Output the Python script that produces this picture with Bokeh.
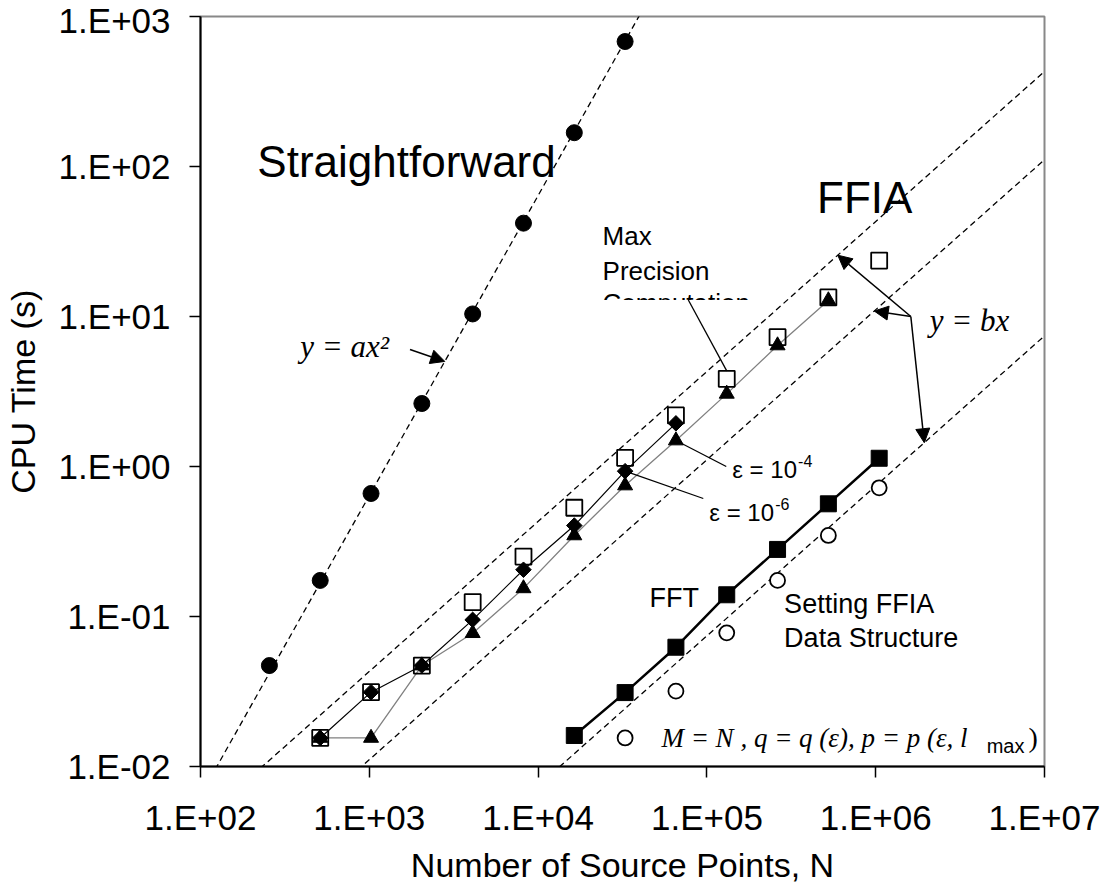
import numpy as np
from bokeh.plotting import figure
from bokeh.models import (FixedTicker, CustomJSTickFormatter, Range1d, Label, Arrow,
                          NormalHead, BoxAnnotation)
from bokeh.embed import file_html
from bokeh.resources import INLINE

# ---------------- data ----------------
N_STRAIGHT = [256, 512, 1024, 2048, 4096, 8192, 16384, 32768]
T_STRAIGHT = [0.0471, 0.174, 0.661, 2.63, 10.4, 41.9, 168.0, 681.0]

N_FFIA = [512, 1024, 2048, 4096, 8192, 16384, 32768, 65536, 131072, 262144, 524288, 1048576]
T_MAXPREC = [0.0155, 0.0313, 0.0471, 0.1245, 0.251, 0.531, 1.143, 2.19, 3.84, 7.28, 13.4, 23.6]
T_EPS6 = [0.0155, 0.0313, 0.0471, 0.095, 0.205, 0.404, 0.931, 1.94]
T_EPS4 = [0.0155, 0.0155, 0.0471, 0.0774, 0.154, 0.347, 0.747, 1.49, 3.05, 6.41, 12.8]

N_FFT = [16384, 32768, 65536, 131072, 262144, 524288, 1048576]
T_FFT = [0.0161, 0.0311, 0.0624, 0.1396, 0.280, 0.564, 1.135]

N_SETUP = [32768, 65536, 131072, 262144, 524288, 1048576]
T_SETUP = [0.0155, 0.0318, 0.0778, 0.174, 0.347, 0.721]

A_QUAD = 6.4e-7                     # y = a x^2
B_LIN = [4.3e-5, 1.11e-5, 7.43e-7]  # y = b x

X_TICKS = [1e2, 1e3, 1e4, 1e5, 1e6, 1e7]
Y_TICKS = [1e-2, 1e-1, 1e0, 1e1, 1e2, 1e3]

# ---------------- layout ----------------
W, H = 1105, 892
FL, FR, FT, FB = 198, 1044, 16, 766


def px2x(px):
    return 10 ** (2 + (px - FL) / (FR - FL) * 5)


def py2y(py):
    return 10 ** (3 - (py - FT) / (FB - FT) * 5)


p = figure(width=W, height=H, x_axis_type="log", y_axis_type="log",
           x_range=Range1d(1e2, 1e7), y_range=Range1d(1e-2, 1e3),
           output_backend="svg", toolbar_location=None,
           min_border_left=FL, min_border_right=W - FR,
           min_border_top=FT, min_border_bottom=H - FB)
p.background_fill_color = "white"
p.border_fill_color = "white"
p.xgrid.visible = False
p.ygrid.visible = False
p.outline_line_color = "#888888"
p.outline_line_width = 2

fmt = CustomJSTickFormatter(code="""
const e = Math.round(Math.log10(tick));
const a = Math.abs(e);
return "1.E" + (e < 0 ? "-" : "+") + (a < 10 ? "0" : "") + a;
""")

for ax, ticks in ((p.xaxis[0], X_TICKS), (p.yaxis[0], Y_TICKS)):
    ax.ticker = FixedTicker(ticks=ticks, minor_ticks=[])
    ax.formatter = fmt
    ax.axis_line_color = "black"
    ax.axis_line_width = 2
    ax.major_tick_line_color = "black"
    ax.major_tick_line_width = 1.5
    ax.major_tick_out = 11
    ax.major_tick_in = 0
    ax.minor_tick_out = 0
    ax.minor_tick_in = 0
    ax.major_label_text_font = "Liberation Sans"
    ax.major_label_text_font_size = "35px"
    ax.major_label_text_color = "black"
    ax.axis_label_text_font = "Liberation Sans"
    ax.axis_label_text_font_size = "34px"
    ax.axis_label_text_font_style = "normal"
    ax.axis_label_text_color = "black"

p.xaxis.axis_label = "Number of Source Points, N"
p.yaxis.axis_label = "CPU Time (s)"
p.xaxis.major_label_standoff = 20
p.xaxis.axis_label_standoff = 6
p.yaxis.major_label_standoff = 19
p.yaxis.axis_label_standoff = 14

# ---------------- reference dashed lines ----------------
xq = np.array([1e2, 1e5])
p.line(xq, A_QUAD * xq ** 2, line_color="black", line_width=1.3, line_dash="6 4")
xl = np.array([1e2, 1e7])
for b in B_LIN:
    p.line(xl, b * xl, line_color="black", line_width=1.3, line_dash="6 4")

# ---------------- series ----------------
p.scatter(N_STRAIGHT, T_STRAIGHT, marker="circle", size=16,
          fill_color="black", line_color="black")

p.line(N_FFIA[:len(T_EPS4)], T_EPS4, line_color="#808080", line_width=1.3)
p.line(N_FFIA[:len(T_EPS6)], T_EPS6, line_color="black", line_width=1.2)

p.scatter(N_FFIA, T_MAXPREC, marker="square", size=16, fill_alpha=0,
          line_color="black", line_width=1.8)
p.scatter(N_FFIA[:len(T_EPS6)], T_EPS6, marker="square", angle=np.pi / 4, size=11,
          fill_color="black", line_color="black")
p.scatter(N_FFIA[:len(T_EPS4)], T_EPS4, marker="triangle", size=15,
          fill_color="black", line_color="black")

p.line(N_FFT, T_FFT, line_color="black", line_width=2.5)
p.scatter(N_FFT, T_FFT, marker="square", size=16, fill_color="black", line_color="black")

p.scatter(N_SETUP, T_SETUP, marker="circle", size=15, fill_color="white",
          line_color="black", line_width=1.8)


# ---------------- annotations ----------------
def label(px, py, text, size, font="Liberation Sans", style="normal"):
    # py is the wanted baseline; the label box is placed by its middle
    p.add_layout(Label(x=px2x(px), y=py2y(py - 0.37 * size), text=text, text_font=font,
                       text_font_size=f"{size}px", text_font_style=style,
                       text_color="black", text_align="left",
                       text_baseline="alphabetic"))


label(255, 177, "Straightforward", 44)
label(816, 213, "FFIA", 44)
label(601, 245, "Max", 26)
label(601, 280, "Precision", 26)
label(601, 312, "Computation", 26)
p.add_layout(BoxAnnotation(left=px2x(595), right=px2x(748), top=py2y(299.5),
                           bottom=py2y(330), fill_color="white", fill_alpha=1,
                           line_alpha=0))

label(731, 478, "ε = 10", 24)
label(797, 466, "-4", 16)
label(708, 521, "ε = 10", 24)
label(774, 509, "-6", 16)

label(929, 331, "y  =  bx", 31, "Liberation Serif", "italic")
label(298, 357, "y  =  ax²", 31, "Liberation Serif", "italic")

label(648, 607, "FFT", 27)
label(783, 613, "Setting FFIA", 27)
label(783, 647, "Data Structure", 27)

label(660, 747, "M = N , q = q (ε), p = p (ε, l", 27, "Liberation Serif", "italic")
label(986, 753, "max", 20)
label(1028, 747, ")", 28, "Liberation Serif")


def head():
    return NormalHead(size=14, fill_color="black", line_color="black", line_width=1)


# y = b x arrows
sx, sy = px2x(910), py2y(316)
for b, n_end in zip(B_LIN, [5.96e5, 9.8e5, 1.94e6]):
    p.add_layout(Arrow(end=head(), x_start=sx, y_start=sy, x_end=n_end, y_end=b * n_end,
                       line_color="black", line_width=1.5))

# y = a x^2 arrow
n_q = 2800
p.add_layout(Arrow(end=head(), x_start=px2x(408), y_start=py2y(349), x_end=n_q,
                   y_end=A_QUAD * n_q ** 2, line_color="black", line_width=1.5))

# leader lines
p.add_layout(Arrow(start=None, end=None, x_start=px2x(687), y_start=py2y(299.5),
                   x_end=N_FFIA[8], y_end=T_MAXPREC[8] * 10 ** (8 / 150),
                   line_color="black", line_width=1.3))
p.add_layout(Arrow(start=None, end=None, x_start=N_FFIA[7], y_start=T_EPS4[7],
                   x_end=px2x(725), y_end=py2y(466), line_color="black", line_width=1.3))
p.add_layout(Arrow(start=None, end=None, x_start=N_FFIA[6], y_start=T_EPS6[6],
                   x_end=px2x(702), y_end=py2y(498), line_color="black", line_width=1.3))

open("out.html", "w").write(file_html(p, INLINE))
